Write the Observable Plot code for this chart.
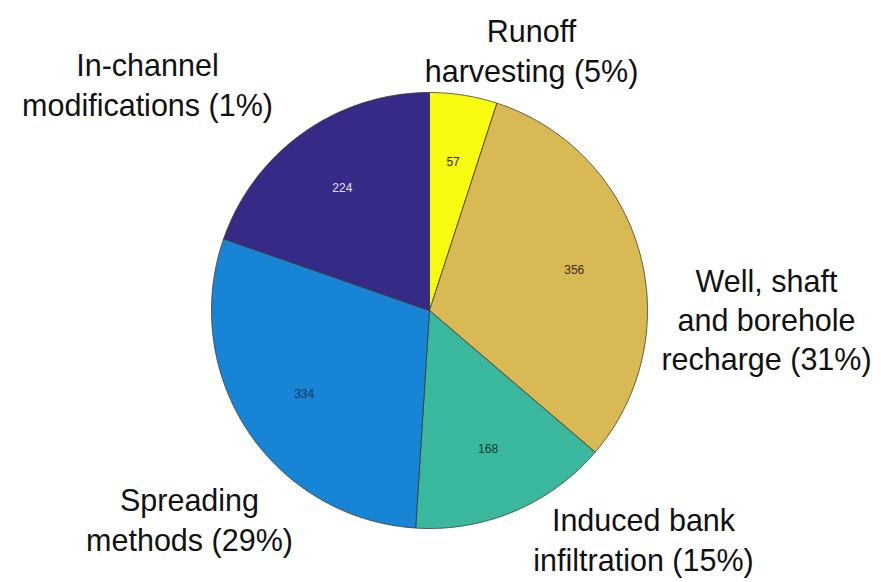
<!DOCTYPE html>
<html>
<head>
<meta charset="utf-8">
<script src="https://cdn.jsdelivr.net/npm/d3@7"></script>
<script src="https://cdn.jsdelivr.net/npm/@observablehq/plot@0.6"></script>
<style>
  html, body { margin: 0; padding: 0; background: #fff; }
  #chart svg { display: block; }
</style>
</head>
<body>
<div id="chart"></div>
<script>
// ---- data ----
const categories = ["Runoff harvesting", "Well, shaft and borehole recharge", "Induced bank infiltration", "Spreading methods", "In-channel modifications"];
const values = [57, 356, 168, 334, 224];
const outerLabels = ["Runoff\nharvesting (5%)", "Well, shaft\nand borehole\nrecharge (31%)", "Induced bank\ninfiltration (15%)", "Spreading\nmethods (29%)", "In-channel\nmodifications (1%)"];

// ---- styles / layout ----
const colors = ["#f8fa0f", "#d8b954", "#39b89d", "#1884d6", "#352a86"];
const valueTextColors = ["#2a2a10", "#3a3015", "#103a30", "#13305e", "#e6e4f4"];
const W = 881, H = 582, CX = 429, CY = 310, R = 218;
// outer label anchors in pixels (block centres)
const labelPx = [[531, 49], [766, 318], [643, 538], [189, 518], [147, 83]];

const total = d3.sum(values);
const toUnitX = px => (px - CX) / R;
const toUnitY = py => (CY - py) / R;

// build wedges from the values
let acc = 0;
const slices = values.map((v, i) => {
  const a0 = acc / total * 2 * Math.PI;
  acc += v;
  const a1 = acc / total * 2 * Math.PI;
  const n = Math.max(2, Math.ceil((a1 - a0) / (Math.PI / 360)));
  const pts = [{x: 0, y: 0}];
  for (let k = 0; k <= n; k++) {
    const a = a0 + (a1 - a0) * k / n;
    pts.push({x: Math.sin(a), y: Math.cos(a)});
  }
  pts.push({x: 0, y: 0});
  const am = (a0 + a1) / 2;
  return {i, v, pts, mx: 0.69 * Math.sin(am), my: 0.69 * Math.cos(am)};
});

const outer = outerLabels.map((t, i) => ({t, x: toUnitX(labelPx[i][0]), y: toUnitY(labelPx[i][1])}));

const chart = Plot.plot({
  width: W,
  height: H,
  margin: 0,
  x: {domain: [toUnitX(0), toUnitX(W)], axis: null},
  y: {domain: [toUnitY(H), toUnitY(0)], axis: null},
  style: {background: "#fff", fontFamily: "'Liberation Sans', Arial, sans-serif"},
  marks: [
    ...slices.map(s => Plot.line(s.pts, {
      x: "x", y: "y",
      fill: colors[s.i],
      stroke: "#3b3a30",
      strokeWidth: 0.8,
      strokeLinejoin: "round"
    })),
    Plot.text(slices, {
      x: "mx", y: "my",
      text: d => String(d.v),
      fill: d => valueTextColors[d.i],
      fontSize: 12,
      fontFamily: "'Liberation Sans', Arial, sans-serif"
    }),
    Plot.text(outer, {
      x: "x", y: "y",
      text: "t",
      fill: "#111",
      fontSize: 30.5,
      lineHeight: 1.28,
      lineAnchor: "middle",
      textAnchor: "middle",
      fontFamily: "'Liberation Sans', Arial, sans-serif"
    })
  ]
});
document.getElementById("chart").appendChild(chart);
</script>
</body>
</html>
